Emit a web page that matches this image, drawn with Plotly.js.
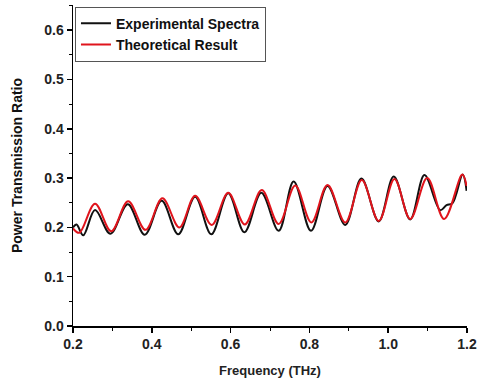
<!DOCTYPE html>
<html>
<head>
<meta charset="utf-8">
<script src="https://cdn.plot.ly/plotly-3.0.1.min.js"></script>
<style>html,body{margin:0;padding:0;background:#fff;}#chart{width:480px;height:384px;}</style>
</head>
<body>
<div id="chart"></div>
<script>
// Experimental spectra (black)
var expFreq = [0.200,0.209,0.226,0.256,0.295,0.339,0.382,0.425,0.467,0.510,0.551,0.594,0.635,0.678,0.722,0.760,0.804,0.846,0.891,0.932,0.976,1.014,1.056,1.092,1.132,1.148,1.163,1.189,1.199];
var expVal  = [0.200,0.206,0.184,0.235,0.187,0.247,0.185,0.254,0.186,0.262,0.186,0.269,0.190,0.270,0.193,0.293,0.193,0.284,0.205,0.299,0.212,0.303,0.216,0.306,0.235,0.245,0.249,0.307,0.274];
// Theoretical result (red)
var thFreq = [0.200,0.216,0.256,0.297,0.340,0.384,0.427,0.470,0.510,0.552,0.594,0.636,0.679,0.722,0.764,0.805,0.846,0.891,0.933,0.976,1.016,1.056,1.099,1.142,1.188,1.199];
var thVal  = [0.198,0.189,0.248,0.192,0.253,0.195,0.259,0.200,0.264,0.205,0.270,0.206,0.276,0.207,0.285,0.210,0.286,0.210,0.296,0.213,0.298,0.217,0.300,0.217,0.307,0.284];

var seriesNames = ['Experimental Spectra','Theoretical Result'];
var xTitle = 'Frequency (THz)';
var yTitle = 'Power Transmission Ratio';

var fontFam = 'Liberation Sans, Arial, sans-serif';

var traces = [
  {x: expFreq, y: expVal, name: seriesNames[0], mode: 'lines',
   line: {color: '#111111', width: 2, shape: 'spline', smoothing: 1}},
  {x: thFreq, y: thVal, name: seriesNames[1], mode: 'lines',
   line: {color: '#e0141c', width: 2, shape: 'spline', smoothing: 1}}
];

var axisCommon = {
  showline: true, linecolor: '#000', linewidth: 1.5,
  ticks: 'outside', ticklen: 5, tickwidth: 1.5, tickcolor: '#000',
  showgrid: false, zeroline: false,
  tickfont: {family: fontFam, size: 14, color: '#222', weight: 'bold'}
};

var layout = {
  width: 480, height: 384,
  margin: {l: 73, r: 13, t: 5, b: 58},
  paper_bgcolor: '#fff', plot_bgcolor: '#fff',
  showlegend: true,
  legend: {x: 0.005, y: 0.995, xanchor: 'left', yanchor: 'top',
    bordercolor: '#555', borderwidth: 1, bgcolor: 'rgba(255,255,255,0)',
    font: {family: fontFam, size: 14, color: '#111', weight: 'bold'},
    tracegroupgap: 0, itemwidth: 30},
  xaxis: Object.assign({}, axisCommon, {
    range: [0.2, 1.2], dtick: 0.2, tick0: 0.2, tickformat: '.1f',
    minor: {dtick: 0.1, ticklen: 3, tickwidth: 1, tickcolor: '#000', ticks: 'outside'},
    title: {text: xTitle, standoff: 14, font: {family: fontFam, size: 13, color: '#222', weight: 'bold'}}
  }),
  yaxis: Object.assign({}, axisCommon, {
    range: [0, 0.651], dtick: 0.1, tick0: 0, tickformat: '.1f',
    minor: {dtick: 0.05, ticklen: 3, tickwidth: 1, tickcolor: '#000', ticks: 'outside'},
    title: {text: yTitle, standoff: 18, font: {family: fontFam, size: 14, color: '#111', weight: 'bold'}}
  })
};

Plotly.newPlot('chart', traces, layout, {staticPlot: true, displayModeBar: false});
</script>
</body>
</html>
